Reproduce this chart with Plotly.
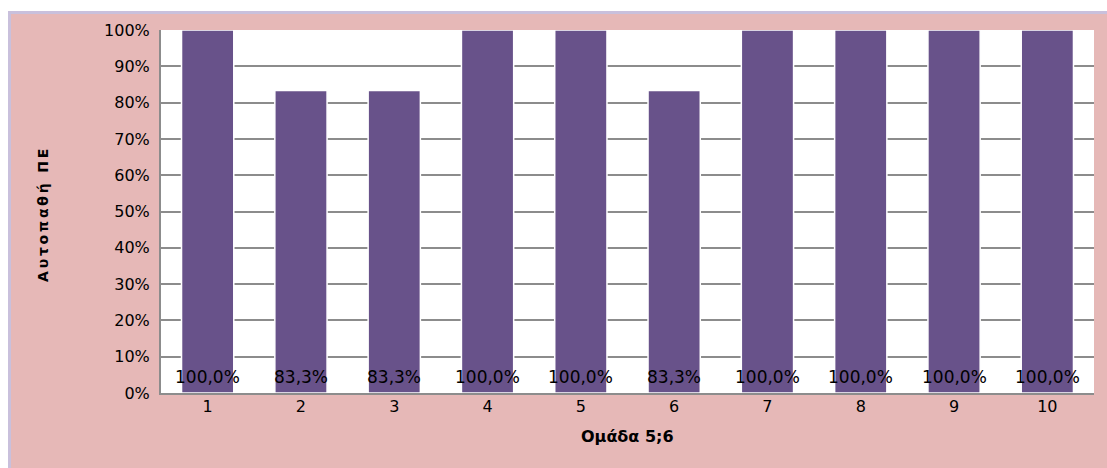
import plotly.graph_objects as go

# Group categories and share of positive results (%)
categories = ["1", "2", "3", "4", "5", "6", "7", "8", "9", "10"]
values = [100.0, 83.3, 83.3, 100.0, 100.0, 83.3, 100.0, 100.0, 100.0, 100.0]
y_ticks = list(range(0, 101, 10))
y_tick_text = [f"{t}%" for t in y_ticks]

x_title = "Ομάδα 5;6"
y_title = "Αυτοπαθή ΠΕ"

W, H = 1107, 468
ML, MR, MT, MB = 161, 13, 30, 75
plot_w = W - ML - MR
plot_h = H - MT - MB

FONT = "DejaVu Sans"
BAR = "#68528A"
PINK = "#E6B8B7"
LAV = "#C9C0DC"
GRID = "#8C8C8C"


def px_x(p):
    return (p - ML) / plot_w


def px_y(p):
    return (H - MB - p) / plot_h


def label(v):
    return f"{v:.1f}%".replace(".", ",")


fig = go.Figure()
fig.add_trace(go.Bar(
    x=categories,
    y=values,
    marker=dict(color=BAR, line=dict(color="white", width=1.5)),
    hoverinfo="skip",
))

# value labels sit at the base of each bar (category index positions)
annotations = [
    dict(x=i, y=0, xref="x", yref="y", text=label(v), showarrow=False,
         yanchor="bottom", yshift=4, font=dict(family=FONT, size=17, color="black"))
    for i, v in enumerate(values)
]
annotations.append(dict(
    x=0.5, y=px_y(437), xref="paper", yref="paper", text=f"<b>{x_title}</b>",
    showarrow=False, xanchor="center", yanchor="middle",
    font=dict(family=FONT, size=16, color="black")))
annotations.append(dict(
    x=px_x(43), y=px_y(216), xref="paper", yref="paper",
    text="<b>" + "\u2009".join(y_title) + "</b>",
    showarrow=False, textangle=-90, xanchor="center", yanchor="middle",
    font=dict(family=FONT, size=14, color="black")))

shapes = [
    # white strip above and left of the chart frame
    dict(type="rect", xref="paper", yref="paper", x0=px_x(0), x1=px_x(W),
         y0=px_y(11), y1=px_y(0), fillcolor="white", line=dict(width=0), layer="below"),
    dict(type="rect", xref="paper", yref="paper", x0=px_x(0), x1=px_x(8),
         y0=px_y(H), y1=px_y(0), fillcolor="white", line=dict(width=0), layer="below"),
    # lavender frame edges
    dict(type="rect", xref="paper", yref="paper", x0=px_x(8), x1=px_x(W),
         y0=px_y(14), y1=px_y(11), fillcolor=LAV, line=dict(width=0), layer="below"),
    dict(type="rect", xref="paper", yref="paper", x0=px_x(8), x1=px_x(11),
         y0=px_y(H), y1=px_y(11), fillcolor=LAV, line=dict(width=0), layer="below"),
]

fig.update_layout(
    width=W, height=H,
    margin=dict(l=ML, r=MR, t=MT, b=MB, pad=0),
    paper_bgcolor=PINK,
    plot_bgcolor="white",
    bargap=0.44,
    showlegend=False,
    annotations=annotations,
    shapes=shapes,
    font=dict(family=FONT, size=16, color="black"),
)
fig.update_xaxes(
    type="category",
    range=[-0.5, len(categories) - 0.5],
    showline=True, linecolor=GRID, linewidth=2,
    showgrid=False, ticks="",
    tickfont=dict(family=FONT, size=16, color="black"),
    ticklabelstandoff=-2,
    automargin=False,
)
fig.update_yaxes(
    range=[0, 100],
    tickvals=y_ticks,
    ticktext=y_tick_text,
    showline=True, linecolor=GRID, linewidth=2,
    showgrid=True, gridcolor=GRID, gridwidth=2,
    zeroline=False, ticks="",
    tickfont=dict(family=FONT, size=16, color="black"),
    ticklabelstandoff=6,
    automargin=False,
)

fig.write_html("out.html")
